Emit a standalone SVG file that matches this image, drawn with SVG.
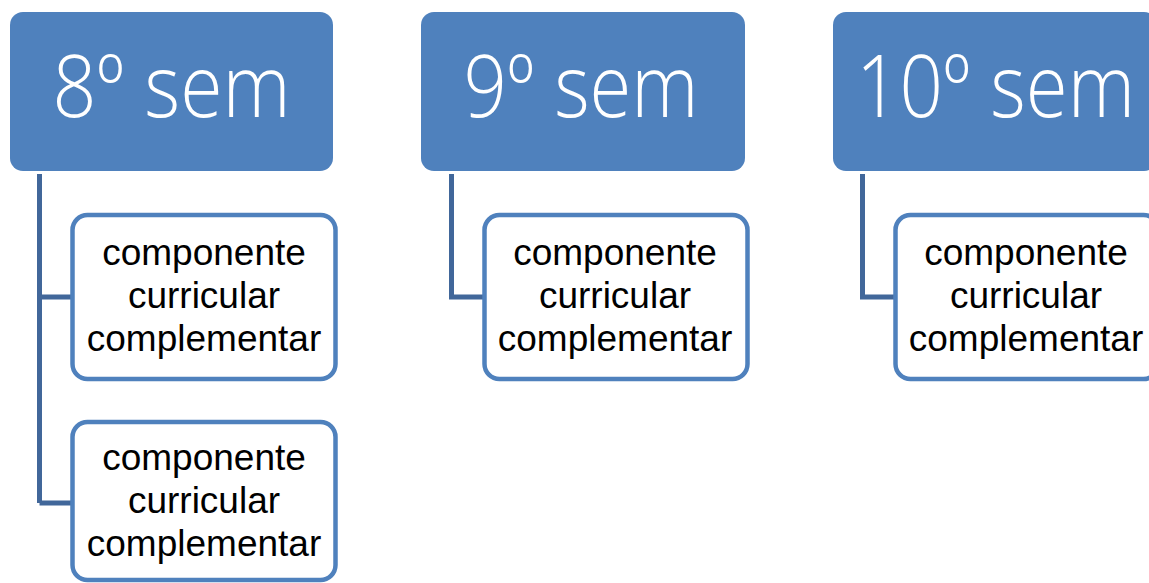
<svg xmlns="http://www.w3.org/2000/svg" width="1149" height="583" viewBox="0 0 1149 583">
<style>
.hdr{fill:#4F81BD;}
.hdrt{fill:#FFFFFF;font-family:"Open Sans","Liberation Sans",Arial,sans-serif;font-weight:300;font-size:86px;text-anchor:middle;}
.child{fill:#FFFFFF;stroke:#4F81BD;stroke-width:4.5;}
.ct{fill:#000000;font-family:"Liberation Sans",Arial,sans-serif;font-size:37px;text-anchor:middle;}
.conn{fill:none;stroke:#41679A;stroke-width:5;}
</style>
<rect width="1149" height="583" fill="#FFFFFF"/>
<g id="connectors">
<path class="conn" d="M39.5,174 V503 M39.5,297 H72 M39.5,503 H72"/>
<path class="conn" d="M451.5,174 V297 H484"/>
<path class="conn" d="M862.5,174 V297 H895"/>
</g>
<g id="h8">
<rect class="hdr" x="10" y="12" width="323" height="159" rx="13"/>
<text class="hdrt" x="171.5" y="117" textLength="238" lengthAdjust="spacingAndGlyphs">8º sem</text>
</g>
<g id="h9">
<rect class="hdr" x="421" y="12" width="324" height="159" rx="13"/>
<text class="hdrt" x="581" y="117" textLength="235" lengthAdjust="spacingAndGlyphs">9º sem</text>
</g>
<g id="h10">
<rect class="hdr" x="833" y="12" width="324" height="159" rx="13"/>
<text class="hdrt" x="995.5" y="117" textLength="279" lengthAdjust="spacingAndGlyphs">10º sem</text>
</g>
<g id="c8a">
<rect class="child" x="72.5" y="215" width="263" height="164" rx="15"/>
<text class="ct" x="204" y="265">componente</text>
<text class="ct" x="204" y="308">curricular</text>
<text class="ct" x="204" y="351">complementar</text>
</g>
<g id="c8b">
<rect class="child" x="72.5" y="422" width="263" height="158" rx="15"/>
<text class="ct" x="204" y="470">componente</text>
<text class="ct" x="204" y="513">curricular</text>
<text class="ct" x="204" y="556">complementar</text>
</g>
<g id="c9">
<rect class="child" x="484.5" y="215" width="263" height="164" rx="15"/>
<text class="ct" x="615" y="265">componente</text>
<text class="ct" x="615" y="308">curricular</text>
<text class="ct" x="615" y="351">complementar</text>
</g>
<g id="c10">
<rect class="child" x="895.5" y="215" width="263" height="164" rx="15"/>
<text class="ct" x="1026" y="265">componente</text>
<text class="ct" x="1026" y="308">curricular</text>
<text class="ct" x="1026" y="351">complementar</text>
</g>
</svg>
